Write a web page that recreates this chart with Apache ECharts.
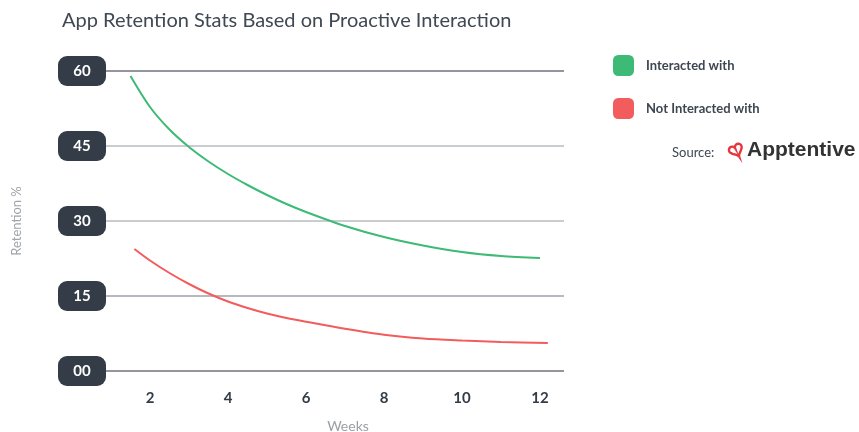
<!DOCTYPE html>
<html>
<head>
<meta charset="utf-8">
<script src="https://cdn.jsdelivr.net/npm/echarts@6/dist/echarts.min.js"></script>
<style>
  html, body { margin: 0; padding: 0; background: #fff; }
  #chart { width: 859px; height: 432px; }
</style>
</head>
<body>
<div id="chart"></div>
<script>
// Retention (%) by week since install
const interactedWeeks  = [1.5, 2, 2.5, 3, 3.5, 4, 4.5, 5, 5.5, 6, 7, 8, 9, 10, 11, 12];
const interactedValues = [59, 52.8, 48.3, 44.8, 41.9, 39.4, 37.2, 35.2, 33.4, 31.8, 29.0, 26.8, 25.1, 23.8, 23.0, 22.6];

const notInteractedWeeks  = [1.6, 2, 2.5, 3, 3.5, 4, 4.5, 5, 5.5, 6, 7, 8, 9, 10, 11, 12.2];
const notInteractedValues = [24.4, 22.1, 19.6, 17.4, 15.5, 13.9, 12.6, 11.5, 10.6, 9.85, 8.45, 7.25, 6.5, 6.1, 5.8, 5.6];

const weekTicks = [2, 4, 6, 8, 10, 12];

const seriesNames = ['Interacted with', 'Not Interacted with'];
const seriesColors = ['#3dba76', '#f25c5c'];

const pairs = (xs, ys) => xs.map((x, i) => [x, ys[i]]);

// Outline of the heart mark in the source logo (local shape coordinates)
const heartOutline = [];
for (let k = 0; k <= 40; k++) {
  const t = (k / 40) * Math.PI * 2;
  const hx = 16 * Math.pow(Math.sin(t), 3);
  const hy = -(13 * Math.cos(t) - 5 * Math.cos(2 * t) - 2 * Math.cos(3 * t) - Math.cos(4 * t));
  heartOutline.push([hx * 0.42, hy * 0.42]);
}

const chart = echarts.init(document.getElementById('chart'), null, { renderer: 'canvas' });

const FONT = 'Lato, "Noto Sans", sans-serif';

chart.setOption({
  animation: false,
  backgroundColor: '#ffffff',
  textStyle: { fontFamily: FONT },
  grid: { left: 106, right: 295, top: 71, bottom: 61, containLabel: false },
  xAxis: {
    type: 'value',
    min: 0.872,
    max: 12.615,
    axisLine: { show: false },
    axisTick: { show: false },
    splitLine: { show: false },
    axisLabel: {
      customValues: weekTicks,
      color: '#333c47',
      fontSize: 15,
      fontWeight: 'bold',
      fontFamily: FONT,
      margin: 20
    }
  },
  yAxis: {
    type: 'value',
    min: 0,
    max: 60,
    interval: 15,
    axisLine: { show: false },
    axisTick: { show: false },
    splitLine: {
      show: true,
      lineStyle: { color: ['#6f757c', '#9ea3a8', '#b9bdc1', '#b9bdc1', '#6f757c'], width: 1.5 }
    },
    axisLabel: {
      formatter: v => String(v).padStart(2, '0'),
      color: '#ffffff',
      fontSize: 15,
      fontWeight: 'bold',
      fontFamily: FONT,
      backgroundColor: '#333c47',
      borderRadius: 9,
      width: 48,
      lineHeight: 16,
      padding: [7, 0],
      align: 'center',
      margin: 24
    }
  },
  legend: {
    orient: 'vertical',
    left: 613,
    top: 55,
    padding: 0,
    itemWidth: 21,
    itemHeight: 21,
    itemGap: 22,
    icon: 'roundRect',
    data: seriesNames,
    textStyle: {
      color: '#3d4651',
      fontSize: 13,
      fontWeight: 'bold',
      fontFamily: FONT,
      padding: [0, 0, 0, 7]
    }
  },
  series: [
    {
      name: seriesNames[0],
      type: 'line',
      smooth: 0.3,
      showSymbol: false,
      data: pairs(interactedWeeks, interactedValues),
      lineStyle: { color: seriesColors[0], width: 2 },
      itemStyle: { color: seriesColors[0] }
    },
    {
      name: seriesNames[1],
      type: 'line',
      smooth: 0.3,
      showSymbol: false,
      data: pairs(notInteractedWeeks, notInteractedValues),
      lineStyle: { color: seriesColors[1], width: 2 },
      itemStyle: { color: seriesColors[1] }
    }
  ],
  graphic: [
    {
      type: 'text',
      x: 62,
      y: 21,
      style: {
        text: 'App Retention Stats Based on Proactive Interaction',
        fill: '#3f4853',
        font: '20px ' + FONT,
        align: 'left',
        verticalAlign: 'middle'
      }
    },
    {
      type: 'text',
      x: 17,
      y: 221,
      rotation: Math.PI / 2,
      style: {
        text: 'Retention %',
        fill: '#a0a5ab',
        font: '13px ' + FONT,
        align: 'center',
        verticalAlign: 'middle'
      }
    },
    {
      type: 'text',
      x: 348,
      y: 426,
      style: {
        text: 'Weeks',
        fill: '#9aa0a6',
        font: '14px ' + FONT,
        align: 'center',
        verticalAlign: 'middle'
      }
    },
    {
      type: 'text',
      x: 672,
      y: 153,
      style: {
        text: 'Source:',
        fill: '#3d4651',
        font: '13px ' + FONT,
        align: 'left',
        verticalAlign: 'middle'
      }
    },
    {
      type: 'polygon',
      x: 736,
      y: 150,
      rotation: 0.45,
      shape: { points: heartOutline },
      style: { fill: 'none', stroke: '#e5373d', lineWidth: 2.4 }
    },
    {
      type: 'text',
      x: 747,
      y: 150,
      style: {
        text: 'Apptentive',
        fill: '#333333',
        font: 'bold 21px "Liberation Sans", Arial, sans-serif',
        align: 'left',
        verticalAlign: 'middle'
      }
    }
  ]
});
</script>
</body>
</html>
